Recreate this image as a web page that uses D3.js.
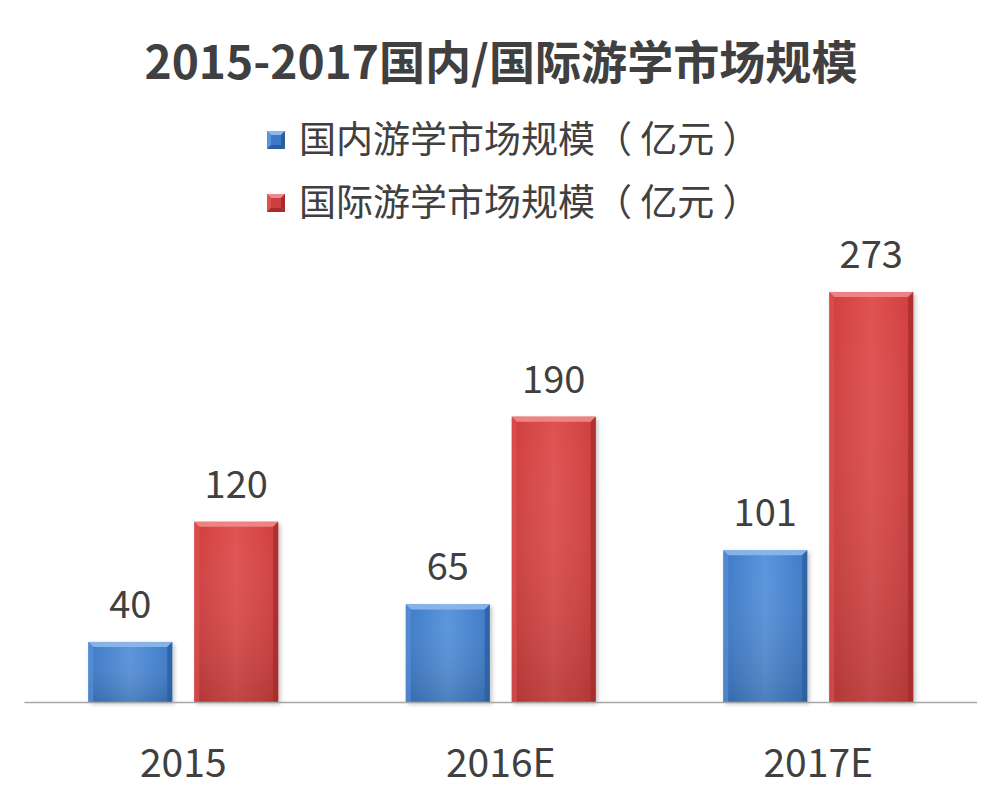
<!DOCTYPE html>
<html><head><meta charset="utf-8">
<script src="https://cdn.jsdelivr.net/npm/d3@7"></script>
<style>body{margin:0;background:#fff}svg{display:block}text{font-family:"Noto Sans CJK SC","Liberation Sans",sans-serif}</style>
</head><body><svg id="c" width="1002" height="808"></svg>
<script>
const categories = ["2015", "2016E", "2017E"];
const seriesNames = ["国内游学市场规模（ 亿元 ）", "国际游学市场规模（ 亿元 ）"];
const domestic = [40, 65, 101];
const international = [120, 190, 273];
const title = "2015-2017国内/国际游学市场规模";

const W = 1002, H = 808;
const svg = d3.select("#c");
const defs = svg.append("defs");
const colors = [
  {id:"g0", light:"#5a95dc", mid:"#3d79c6", dark:"#2c5f9f", top:"#8fb8ea"},
  {id:"g1", light:"#e05252", mid:"#cf3e3e", dark:"#a52c2c", top:"#ef8a8a"}
];
colors.forEach(c => {
  const g = defs.append("linearGradient").attr("id", c.id).attr("x1",0).attr("x2",1).attr("y1",0).attr("y2",0);
  g.append("stop").attr("offset","0%").attr("stop-color", c.mid);
  g.append("stop").attr("offset","50%").attr("stop-color", c.light);
  g.append("stop").attr("offset","100%").attr("stop-color", c.mid);
  const v = defs.append("linearGradient").attr("id", c.id+"v").attr("x1",0).attr("x2",0).attr("y1",0).attr("y2",1);
  v.append("stop").attr("offset","0%").attr("stop-color", "#fff").attr("stop-opacity",0);
  v.append("stop").attr("offset","100%").attr("stop-color", "#000").attr("stop-opacity",0.14);
});
const f = defs.append("filter").attr("id","sh").attr("x","-10%").attr("y","-10%").attr("width","130%").attr("height","130%");
f.append("feDropShadow").attr("dx",2).attr("dy",2).attr("stdDeviation",2).attr("flood-color","#000").attr("flood-opacity",0.25);

const baseY = 702, left = 24.5, right = 977;
const y = d3.scaleLinear().domain([0, 273]).range([baseY, 292]);
const x0 = d3.scaleBand().domain(categories).range([left, right]).padding(0);
const x1 = d3.scaleBand().domain([0,1]).range([0, x0.bandwidth()]).paddingInner(0.208).paddingOuter(0.602);

const data = categories.map((c,i) => ({cat:c, vals:[domestic[i], international[i]]}));

// title
svg.append("text").attr("x", 501).attr("y", 79).attr("text-anchor","middle")
  .attr("font-size", 46).attr("font-weight", "bold").attr("fill", "#404040")
  .attr("textLength", 713).attr("lengthAdjust","spacingAndGlyphs").text(title);

// legend
seriesNames.forEach((s,i) => {
  const gy = 140 + i*63;
  const c = colors[i];
  const lg = svg.append("g").attr("transform", `translate(267,${gy-9})`);
  const sz = 18, b = 4;
  lg.append("rect").attr("width",sz).attr("height",sz).attr("fill",c.mid);
  lg.append("polygon").attr("points",`0,0 ${sz},0 ${sz-b},${b} ${b},${b}`).attr("fill",c.top);
  lg.append("polygon").attr("points",`0,0 ${b},${b} ${b},${sz-b} 0,${sz}`).attr("fill",c.light);
  lg.append("polygon").attr("points",`${sz},0 ${sz},${sz} ${sz-b},${sz-b} ${sz-b},${b}`).attr("fill",c.dark);
  lg.append("polygon").attr("points",`0,${sz} ${sz},${sz} ${sz-b},${sz-b} ${b},${sz-b}`).attr("fill",c.dark);
  svg.append("text").attr("x", 299).attr("y", gy).attr("dy","0.35em")
    .attr("font-size", 37).attr("fill", "#404040")
    .style("white-space","pre").text(s);
});

// bars
const groups = svg.selectAll("g.cat").data(data).join("g").attr("class","cat")
  .attr("transform", d => `translate(${x0(d.cat)},0)`);
groups.each(function(d){
  const g = d3.select(this);
  d.vals.forEach((v,i) => {
    const c = colors[i];
    const bx = x1(i), bw = x1.bandwidth(), by = y(v), bh = baseY - y(v);
    const bg = g.append("g");
    bg.append("rect").attr("x",bx).attr("y",by).attr("width",bw).attr("height",bh)
      .attr("fill",`url(#${c.id})`).attr("filter","url(#sh)");
    bg.append("rect").attr("x",bx).attr("y",by).attr("width",bw).attr("height",bh)
      .attr("fill",`url(#${c.id}v)`);
    const b = 5;
    bg.append("polygon").attr("points",`${bx},${by} ${bx+bw},${by} ${bx+bw-b},${by+b} ${bx+b},${by+b}`).attr("fill",c.top).attr("opacity",0.9);
    bg.append("polygon").attr("points",`${bx},${by} ${bx+b},${by+b} ${bx+b},${by+bh} ${bx},${by+bh}`).attr("fill",c.light).attr("opacity",0.6);
    bg.append("polygon").attr("points",`${bx+bw},${by} ${bx+bw},${by+bh} ${bx+bw-b},${by+bh} ${bx+bw-b},${by+b}`).attr("fill",c.dark).attr("opacity",0.8);
    g.append("text").attr("x", bx+bw/2).attr("y", by-24).attr("text-anchor","middle")
      .attr("font-size", 38).attr("fill","#404040").attr("font-family","Liberation Sans, sans-serif").text(v);
  });
  g.append("text").attr("x", x0.bandwidth()/2).attr("y", 777).attr("text-anchor","middle")
    .attr("font-size", 39).attr("fill","#404040").attr("font-family","Liberation Sans, sans-serif").text(d.cat);
});

// axis line
svg.append("line").attr("x1",left).attr("x2",right).attr("y1",baseY+0.5).attr("y2",baseY+0.5)
  .attr("stroke","#a6a6a6").attr("stroke-width",1.5);
</script></body></html>
